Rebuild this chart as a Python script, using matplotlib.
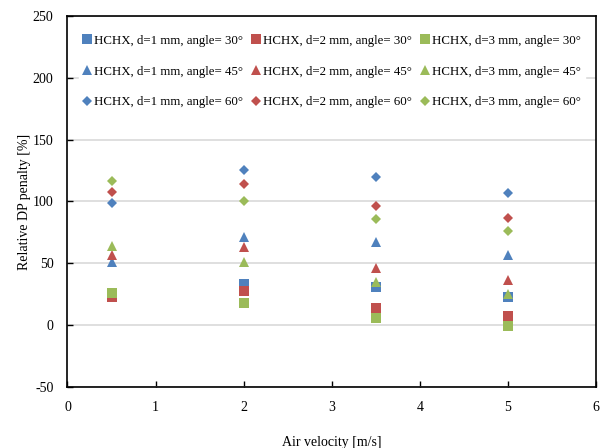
import matplotlib
matplotlib.use("Agg")
import matplotlib.pyplot as plt

plt.rcParams['font.family'] = ['Liberation Serif', 'DejaVu Serif']
plt.rcParams['axes.unicode_minus'] = False

# Air velocity [m/s]
velocity = [0.5, 2.0, 3.5, 5.0]

# Relative DP penalty [%] per fin diameter (d) and angle
dp_d1_30 = [25.0, 33.0, 30.5, 23.0]
dp_d2_30 = [23.0, 28.0, 14.0, 7.0]
dp_d3_30 = [26.0, 18.0, 5.5, -0.5]
dp_d1_45 = [51.0, 71.0, 67.5, 57.0]
dp_d2_45 = [56.5, 63.5, 46.5, 36.5]
dp_d3_45 = [64.0, 51.0, 34.5, 25.0]
dp_d1_60 = [99.0, 125.5, 120.0, 107.0]
dp_d2_60 = [108.0, 114.0, 96.5, 87.0]
dp_d3_60 = [116.5, 100.5, 85.5, 76.0]

diameters = [1, 2, 3]
angles = [30, 45, 60]
series = {
    (1, 30): dp_d1_30, (2, 30): dp_d2_30, (3, 30): dp_d3_30,
    (1, 45): dp_d1_45, (2, 45): dp_d2_45, (3, 45): dp_d3_45,
    (1, 60): dp_d1_60, (2, 60): dp_d2_60, (3, 60): dp_d3_60,
}

colors = {1: '#4F81BD', 2: '#C0504D', 3: '#9BBB59'}
markers = {30: ('s', 6.8), 45: ('^', 7.8), 60: ('D', 5.4)}

fig = plt.figure(figsize=(6.01, 4.48), dpi=100)
ax = fig.add_axes([0.1123, 0.1362, 0.8794, 0.8281])

handles = {}
for ang in angles:
    for d in diameters:
        m, ms = markers[ang]
        h, = ax.plot(velocity, series[(d, ang)], linestyle='none', marker=m,
                     markersize=ms, color=colors[d], markeredgewidth=0,
                     label=f'HCHX, d={d} mm, angle= {ang}°', zorder=3)
        handles[(d, ang)] = h

ax.set_xlim(0, 6)
ax.set_ylim(-50, 250)
ax.set_xticks(range(0, 7))
ax.set_yticks(range(-50, 251, 50))
ax.yaxis.grid(True, color='#d9d9d9', linewidth=1.2)
ax.set_axisbelow(True)
ax.tick_params(direction='in', length=4, width=1, labelsize=10, colors='black')
ax.tick_params(axis='x', pad=10)
ax.tick_params(axis='y', pad=10)
for s in ax.spines.values():
    s.set_linewidth(1.2)
    s.set_color('black')

ax.set_xlabel('Air velocity [m/s]', fontsize=10, labelpad=16)
ax.set_ylabel('Relative DP penalty [%]', fontsize=10, labelpad=1)

order = [(d, a) for d in diameters for a in angles]
leg = ax.legend([handles[k] for k in order], [handles[k].get_label() for k in order],
                ncol=3, loc='upper center', bbox_to_anchor=(0.5, 0.96),
                frameon=True, fancybox=False, framealpha=1, edgecolor='white',
                facecolor='white', fontsize=9.3, handlelength=0.7, handletextpad=0.2,
                columnspacing=0.65, labelspacing=1.45, borderpad=0.3, borderaxespad=0.0)
leg.set_zorder(2)

fig.savefig('out.png', dpi=100)
